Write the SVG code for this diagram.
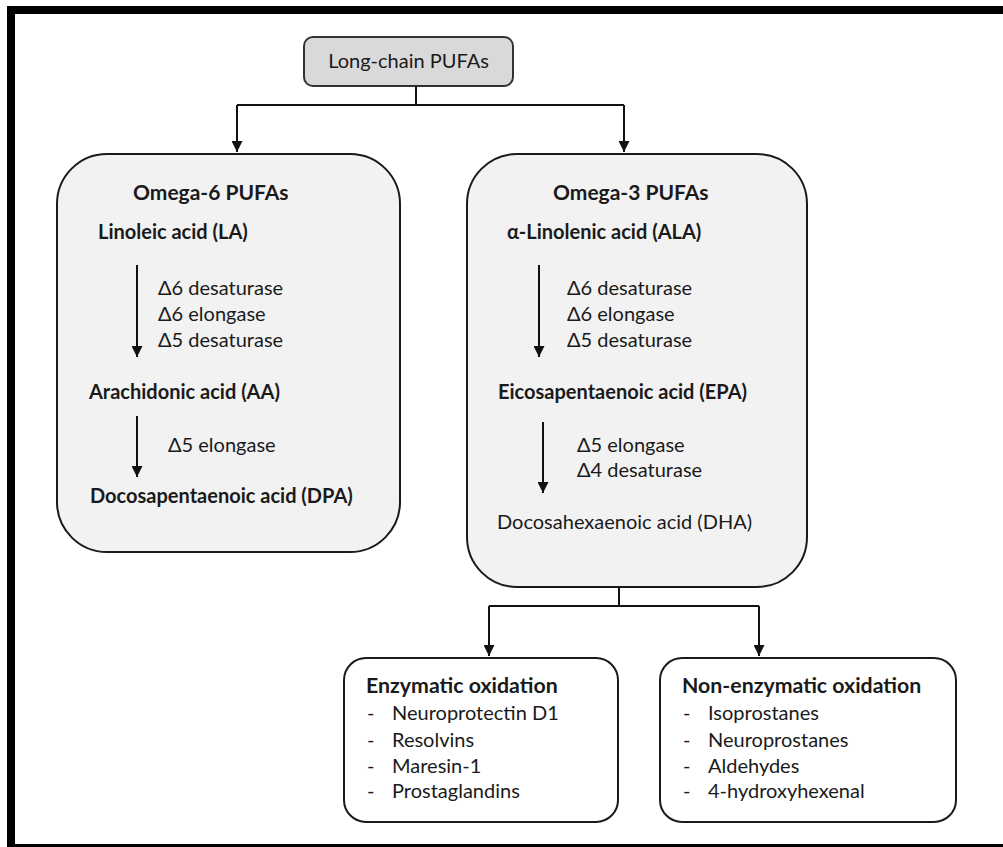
<svg xmlns="http://www.w3.org/2000/svg" width="1003" height="847" viewBox="0 0 1003 847">
<defs>
<style>
text{font-family:Lato,"Open Sans","DejaVu Sans",sans-serif;fill:#1a1a1a;font-size:20px}
.b{font-weight:bold}
.h{font-weight:bold;font-size:21px}
.hh{font-weight:bold;font-size:21.3px}
.big{fill:#f2f2f2;stroke:#1a1a1a;stroke-width:2}
.small{fill:#fff;stroke:#1a1a1a;stroke-width:2}
.top{fill:#d9d9d9;stroke:#333;stroke-width:2}
.c{fill:none;stroke:#111;stroke-width:2}
</style>
<marker id="ah" viewBox="0 0 10 10" refX="10" refY="5" markerWidth="12" markerHeight="11" markerUnits="userSpaceOnUse" orient="auto">
<path d="M0,0 L10,5 L0,10 z" fill="#111"/>
</marker>
</defs>
<rect width="1003" height="847" fill="#fff"/>
<g id="frame">
<rect x="7" y="6" width="996" height="8" fill="#000"/>
<rect x="7" y="6" width="8" height="841" fill="#000"/>
<rect x="7" y="844" width="996" height="3" fill="#000"/>
</g>
<g id="long-chain">
<rect class="top" x="304" y="37" width="209" height="49" rx="9"/>
<text x="408.5" y="68" text-anchor="middle">Long-chain PUFAs</text>
</g>
<g id="omega6">
<rect class="big" x="57" y="154" width="343" height="398" rx="50"/>
<text class="h" x="133" y="200">Omega-6 PUFAs</text>
<text class="b" x="98" y="239">Linoleic acid (LA)</text>
<text x="158" y="295">Δ6 desaturase</text>
<text x="158" y="321">Δ6 elongase</text>
<text x="158" y="347">Δ5 desaturase</text>
<text class="b" x="89" y="399">Arachidonic acid (AA)</text>
<text x="168" y="452">Δ5 elongase</text>
<text class="b" x="90" y="503">Docosapentaenoic acid (DPA)</text>
</g>
<g id="omega3">
<rect class="big" x="467" y="154" width="340" height="433" rx="50"/>
<text class="h" x="553" y="200">Omega-3 PUFAs</text>
<text class="b" x="507" y="239">α-Linolenic acid (ALA)</text>
<text x="567" y="295">Δ6 desaturase</text>
<text x="567" y="321">Δ6 elongase</text>
<text x="567" y="347">Δ5 desaturase</text>
<text class="b" x="498" y="399">Eicosapentaenoic acid (EPA)</text>
<text x="577" y="452">Δ5 elongase</text>
<text x="577" y="477">Δ4 desaturase</text>
<text x="497" y="529">Docosahexaenoic acid (DHA)</text>
</g>
<g id="enzymatic">
<rect class="small" x="344" y="658" width="274" height="164" rx="22"/>
<text class="hh" x="366" y="693">Enzymatic oxidation</text>
<text x="367" y="720">-</text><text x="392" y="720">Neuroprotectin D1</text>
<text x="367" y="747">-</text><text x="392" y="747">Resolvins</text>
<text x="367" y="773">-</text><text x="392" y="773">Maresin-1</text>
<text x="367" y="798">-</text><text x="392" y="798">Prostaglandins</text>
</g>
<g id="non-enzymatic">
<rect class="small" x="660" y="658" width="296" height="164" rx="22"/>
<text class="hh" x="682" y="693">Non-enzymatic oxidation</text>
<text x="683" y="720">-</text><text x="708" y="720">Isoprostanes</text>
<text x="683" y="747">-</text><text x="708" y="747">Neuroprostanes</text>
<text x="683" y="773">-</text><text x="708" y="773">Aldehydes</text>
<text x="683" y="798">-</text><text x="708" y="798">4-hydroxyhexenal</text>
</g>
<g id="connectors">
<path class="c" d="M416,86 V105 M237,105 H624"/>
<path class="c" d="M237,105 V152" marker-end="url(#ah)"/>
<path class="c" d="M624,105 V152" marker-end="url(#ah)"/>
<path class="c" d="M137,265 V357" marker-end="url(#ah)"/>
<path class="c" d="M137,416 V477" marker-end="url(#ah)"/>
<path class="c" d="M539,265 V357" marker-end="url(#ah)"/>
<path class="c" d="M543,422 V493" marker-end="url(#ah)"/>
<path class="c" d="M619,587 V606 M489,606 H759"/>
<path class="c" d="M489,606 V656" marker-end="url(#ah)"/>
<path class="c" d="M759,606 V656" marker-end="url(#ah)"/>
</g>
</svg>
